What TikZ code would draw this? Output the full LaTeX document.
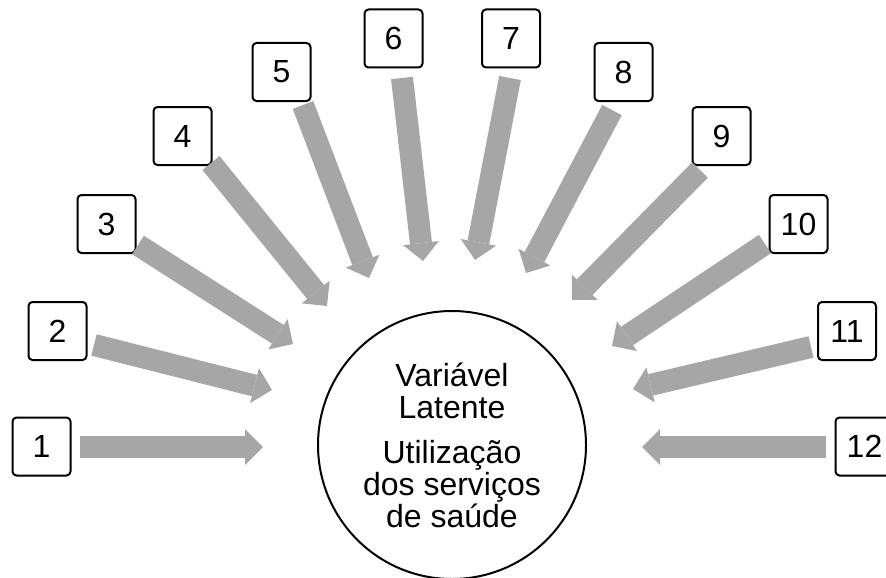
\documentclass[tikz,border=0pt]{standalone}
\usepackage{fontspec}
\setmainfont{Liberation Sans}
\usetikzlibrary{arrows.meta}
\definecolor{arrowgray}{RGB}{166,166,166}
\tikzset{
	itembox/.style={draw, rectangle, rounded corners=4pt, line width=2pt, minimum size=58pt, inner sep=0pt, font=\fontsize{32}{32}\selectfont},
	latent/.style={draw, circle, line width=2pt, minimum size=268pt, inner sep=0pt, align=center, font=\fontsize{32}{32}\selectfont},
	blockarrow/.style={arrowgray, line width=22pt, -{Triangle[width=36pt,length=18pt,line width=0pt]}}
}
\begin{document}
\begin{tikzpicture}[x=1pt, y=-1pt]
		\useasboundingbox (0,0) rectangle (886,578);
		% latent variable
		\node[latent] (lv) at (452,445) {Variável\\Latente\\[13pt]Utilização\\dos serviços\\de saúde};
		% indicators
		\node[itembox] (b1) at (41.5,446.5) {1};
		\node[itembox] (b2) at (57.5,331) {2};
		\node[itembox] (b3) at (106.5,224) {3};
		\node[itembox] (b4) at (182.5,136) {4};
		\node[itembox] (b5) at (281.5,72) {5};
		\node[itembox] (b6) at (393.5,38.5) {6};
		\node[itembox] (b7) at (511,38.5) {7};
		\node[itembox] (b8) at (623.5,72) {8};
		\node[itembox] (b9) at (721.5,136) {9};
		\node[itembox] (b10) at (798.5,224) {10};
		\node[itembox] (b11) at (847,331) {11};
		\node[itembox] (b12) at (864.5,446.5) {12};
		% arrow ends
		\coordinate (s1) at (80,447);   \coordinate (t1) at (263,447);
		\coordinate (s2) at (94,345);   \coordinate (t2) at (272,390);
		\coordinate (s3) at (138,245);  \coordinate (t3) at (293,344);
		\coordinate (s4) at (211,163);  \coordinate (t4) at (327,306);
		\coordinate (s5) at (303,105);  \coordinate (t5) at (369,278);
		\coordinate (s6) at (402,78);   \coordinate (t6) at (423,261);
		\coordinate (s7) at (510,78);   \coordinate (t7) at (475,260);
		\coordinate (s8) at (612,110);  \coordinate (t8) at (526,273);
		\coordinate (s9) at (700,170);  \coordinate (t9) at (572,300);
		\coordinate (s10) at (765,244); \coordinate (t10) at (612,346);
		\coordinate (s11) at (811,347); \coordinate (t11) at (633,389);
		\coordinate (s12) at (826,447); \coordinate (t12) at (642,447);
		\draw[blockarrow] (s1) -- (t1);
		\draw[blockarrow] (s2) -- (t2);
		\draw[blockarrow] (s3) -- (t3);
		\draw[blockarrow] (s4) -- (t4);
		\draw[blockarrow] (s5) -- (t5);
		\draw[blockarrow] (s6) -- (t6);
		\draw[blockarrow] (s7) -- (t7);
		\draw[blockarrow] (s8) -- (t8);
		\draw[blockarrow] (s9) -- (t9);
		\draw[blockarrow] (s10) -- (t10);
		\draw[blockarrow] (s11) -- (t11);
		\draw[blockarrow] (s12) -- (t12);
	\end{tikzpicture}
\end{document}
